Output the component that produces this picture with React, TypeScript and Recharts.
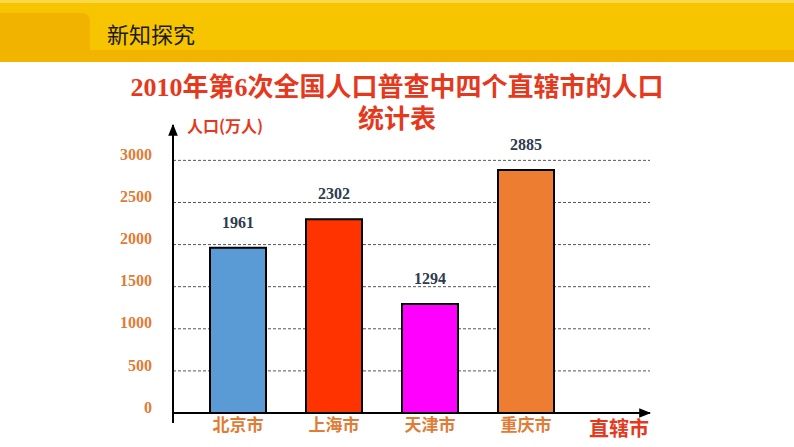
import React from "react";
import { BarChart, Bar, XAxis, YAxis, CartesianGrid, Cell, LabelList } from "recharts";

// 2010年第6次全国人口普查 四个直辖市人口（万人）
const cities = ["北京市", "上海市", "天津市", "重庆市"];
const population = [1961, 2302, 1294, 2885];
const yTicks = [0, 500, 1000, 1500, 2000, 2500, 3000];

const BAR_COLORS = ["#5B9BD5", "#FF3300", "#FF00FF", "#ED7D31"];
const RED = "#E5391D";
const ORANGE = "#E07C35";

const chartData = cities.map((city, i) => ({ city, value: population[i] }));

const serif = "'Liberation Serif', 'Noto Sans CJK SC', serif";
const cjk = "'Noto Sans CJK SC', sans-serif";

export default function App() {
  return (
    <div style={{ position: "relative", width: 794, height: 447, background: "#fff", overflow: "hidden" }}>
      <style>{`body{margin:0}`}</style>
      {/* arrow heads for the axes */}
      <svg width={0} height={0} style={{ position: "absolute" }}>
        <defs>
          <marker id="axisArrow" viewBox="0 0 10 10" refX="9" refY="5" markerWidth="6" markerHeight="6" orient="auto-start-reverse">
            <path d="M0,1 L10,5 L0,9 z" fill="#000" />
          </marker>
        </defs>
      </svg>

      {/* header band */}
      <div style={{ position: "absolute", left: 0, top: 0, width: 794, height: 62, background: "#F7C400" }} />
      <div style={{ position: "absolute", left: 0, top: 0, width: 794, height: 3, background: "#FBD84A" }} />
      <div style={{ position: "absolute", left: 0, top: 50, width: 794, height: 12, background: "#F1B500" }} />
      <div style={{ position: "absolute", left: 0, top: 13, width: 90, height: 37, background: "#F2B300", borderTopRightRadius: 8 }} />
      <div style={{ position: "absolute", left: 107, top: 20, fontFamily: cjk, fontSize: 22, color: "#1a1a1a", lineHeight: "26px" }}>
        新知探究
      </div>

      {/* title */}
      <div style={{ position: "absolute", left: 0, top: 72, width: 794, textAlign: "center", fontFamily: serif, fontWeight: 700, fontSize: 26, color: RED, lineHeight: "32px" }}>
        2010年第6次全国人口普查中四个直辖市的人口
        <br />
        统计表
      </div>

      <div style={{ position: "absolute", left: 187, top: 114, fontFamily: cjk, fontWeight: 700, fontSize: 16, color: RED, lineHeight: "22px" }}>
        人口(万人)
      </div>
      <div style={{ position: "absolute", left: 589, top: 415, fontFamily: cjk, fontWeight: 700, fontSize: 20, color: RED, lineHeight: "26px" }}>
        直辖市
      </div>
      {/* y axis runs a little below the x axis */}
      <div style={{ position: "absolute", left: 172, top: 412, width: 2, height: 11, background: "#000" }} />

      <div style={{ position: "absolute", left: 0, top: 0 }}>
        <BarChart width={794} height={447} data={chartData} margin={{ top: 125, right: 144, bottom: 4, left: 113 }}>
          <CartesianGrid horizontal vertical={false} stroke="#555" strokeDasharray="3 2" horizontalValues={yTicks.slice(1)} />
          <XAxis
            dataKey="city"
            height={30}
            padding={{ left: 17, right: 76 }}
            tickLine={false}
            tickSize={0}
            tickMargin={6}
            axisLine={{ stroke: "#000", strokeWidth: 2, markerEnd: "url(#axisArrow)" }}
            tick={{ fill: ORANGE, fontFamily: cjk, fontWeight: 700, fontSize: 17 }}
          />
          <YAxis
            width={60}
            domain={[0, 3420]}
            ticks={yTicks}
            interval={0}
            tickLine={false}
            tickSize={0}
            tickMargin={21}
            axisLine={{ stroke: "#000", strokeWidth: 2, markerStart: "url(#axisArrow)" }}
            tick={{ fill: ORANGE, fontFamily: serif, fontWeight: 700, fontSize: 16, dy: -6 }}
          />
          <Bar dataKey="value" barSize={56} stroke="#000" strokeWidth={2} isAnimationActive={false}>
            {chartData.map((_entry, index) => (
              <Cell key={`cell-${index}`} fill={BAR_COLORS[index % BAR_COLORS.length]} />
            ))}
            <LabelList dataKey="value" position="top" offset={20} fill="#2E3B4E" fontFamily={serif} fontWeight={700} fontSize={16} />
          </Bar>
        </BarChart>
      </div>
    </div>
  );
}
